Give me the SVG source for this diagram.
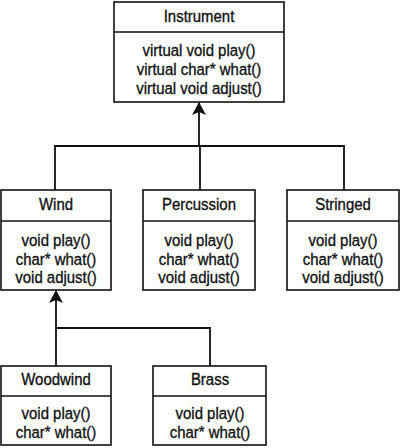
<svg xmlns="http://www.w3.org/2000/svg" width="402" height="448" viewBox="0 0 402 448">
<style>
.box{fill:#fff;stroke:#111;stroke-width:1.6}
.div{stroke:#111;stroke-width:1.4}
text{font-family:"Liberation Sans",Arial,sans-serif;font-size:17px;fill:#111;stroke:#111;stroke-width:0.35;text-anchor:middle}
.c{fill:none;stroke:#111;stroke-width:1.8}
</style>
<defs>
<marker id="arr" markerUnits="userSpaceOnUse" markerWidth="14" markerHeight="14" viewBox="0 0 14 14" refX="12" refY="7" orient="auto">
<path d="M0,0 L13,7 L0,14 L3,7 Z" fill="#111"/>
</marker>
</defs>
<rect width="402" height="448" fill="#fff"/>
<g id="connectors">
<path class="c" d="M200,190 V146 H199 V103" marker-end="url(#arr)"/>
<path class="c" d="M55,190 V146 H344 V190"/>
<path class="c" d="M56,366 V291" marker-end="url(#arr)"/>
<path class="c" d="M56,328 H210 V366"/>
</g>
<g id="instrument">
<rect class="box" x="114" y="2" width="170" height="100"/>
<line class="div" x1="114" y1="32" x2="284" y2="32"/>
<g transform="translate(199 0) scale(0.88 1)">
<text x="0" y="22">Instrument</text>
<text x="0" y="56">virtual void play()</text>
<text x="0" y="75">virtual char* what()</text>
<text x="0" y="94">virtual void adjust()</text>
</g>
</g>
<g id="wind">
<rect class="box" x="1" y="190" width="110" height="100"/>
<line class="div" x1="1" y1="221" x2="111" y2="221"/>
<g transform="translate(56 0) scale(0.88 1)">
<text x="0" y="210">Wind</text>
<text x="0" y="246">void play()</text>
<text x="0" y="265">char* what()</text>
<text x="0" y="283">void adjust()</text>
</g>
</g>
<g id="percussion">
<rect class="box" x="143" y="190" width="112" height="100"/>
<line class="div" x1="143" y1="221" x2="255" y2="221"/>
<g transform="translate(199 0) scale(0.88 1)">
<text x="0" y="210">Percussion</text>
<text x="0" y="246">void play()</text>
<text x="0" y="265">char* what()</text>
<text x="0" y="283">void adjust()</text>
</g>
</g>
<g id="stringed">
<rect class="box" x="287" y="190" width="112" height="100"/>
<line class="div" x1="287" y1="221" x2="399" y2="221"/>
<g transform="translate(343 0) scale(0.88 1)">
<text x="0" y="210">Stringed</text>
<text x="0" y="246">void play()</text>
<text x="0" y="265">char* what()</text>
<text x="0" y="283">void adjust()</text>
</g>
</g>
<g id="woodwind">
<rect class="box" x="1" y="366" width="110" height="79"/>
<line class="div" x1="1" y1="396" x2="111" y2="396"/>
<g transform="translate(56 0) scale(0.88 1)">
<text x="0" y="385">Woodwind</text>
<text x="0" y="419">void play()</text>
<text x="0" y="438">char* what()</text>
</g>
</g>
<g id="brass">
<rect class="box" x="153" y="366" width="113" height="79"/>
<line class="div" x1="153" y1="396" x2="266" y2="396"/>
<g transform="translate(210 0) scale(0.88 1)">
<text x="0" y="385">Brass</text>
<text x="0" y="419">void play()</text>
<text x="0" y="438">char* what()</text>
</g>
</g>
</svg>
